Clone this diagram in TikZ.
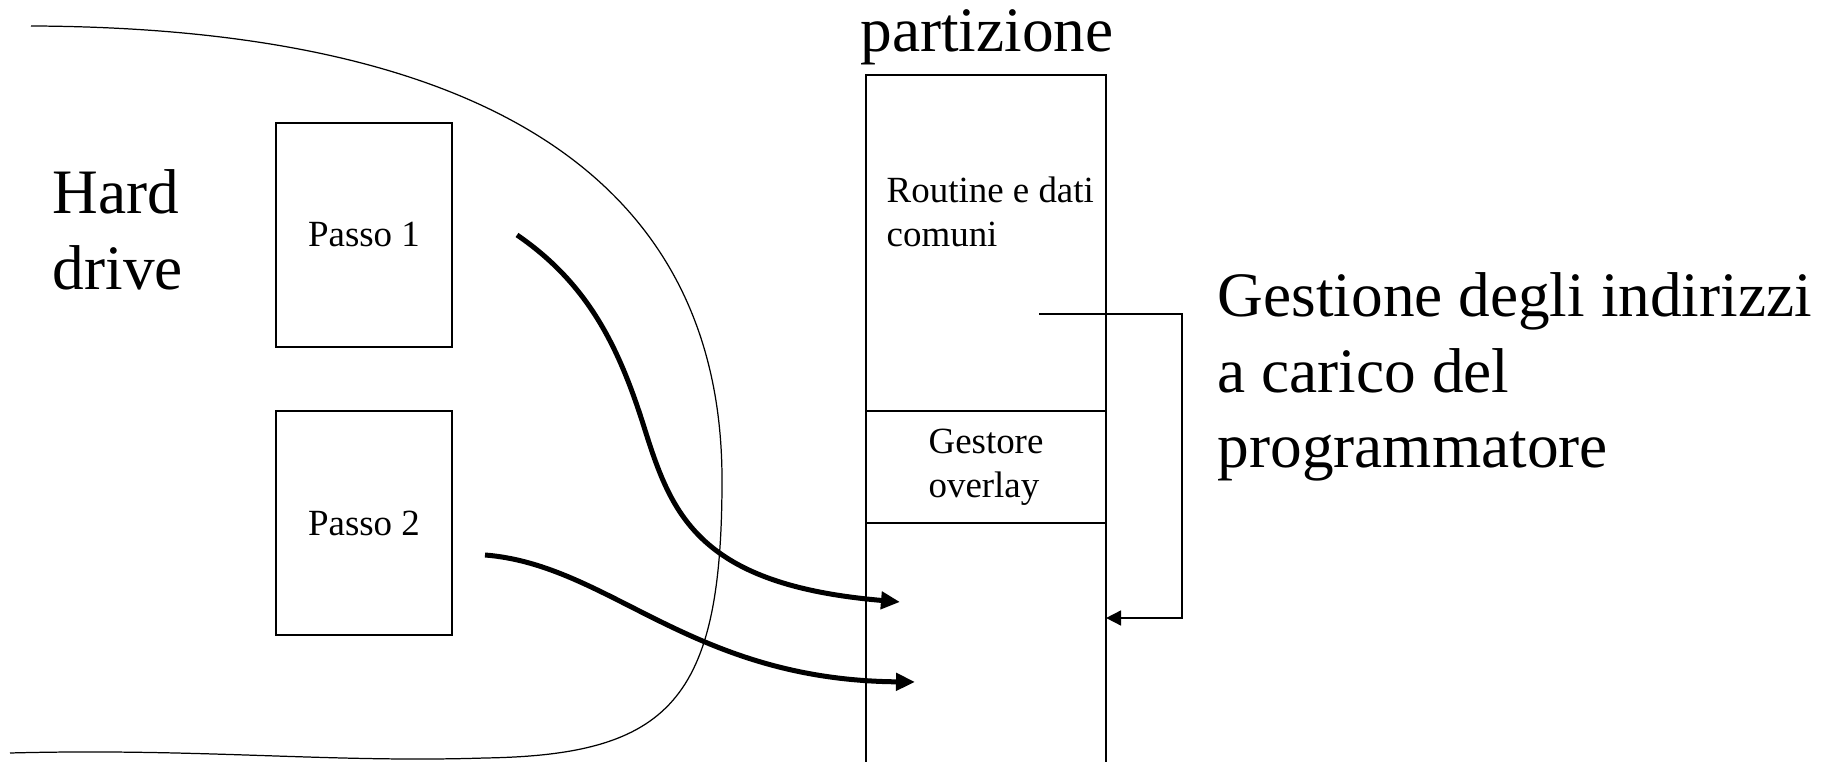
\documentclass[tikz,border=0pt]{standalone}
\usepackage{fontspec}
\setmainfont{Liberation Serif}
\usetikzlibrary{positioning,arrows.meta}

\begin{document}
\begin{tikzpicture}[x=0.01cm,y=-0.01cm,
	cell/.style={draw,line width=0.4pt,inner sep=0pt,outer sep=0pt,minimum width=2.4cm},
	big/.style={font=\fontsize{18}{21.5}\selectfont,align=left,inner sep=0pt},
	small/.style={font=\fontsize{10.5}{12.7}\selectfont,align=left,inner sep=0pt},
	fat/.style={line width=0.05cm,-{Triangle[length=0.19cm,width=0.17cm]}},
	thin/.style={line width=0.48pt,-{Triangle[length=0.15cm,width=0.15cm]}}]

\useasboundingbox (0,0) rectangle (1831,762);

% disco
\draw [line width=0.35pt] (31,26) .. controls (500,28) and (722,190) .. (722,480)
	.. controls (722,700) and (670,755) .. (485,758)
	.. controls (330,763) and (200,748) .. (10,753);

\node [big,anchor=north west] (hd) at (52,169) {Hard\\drive};

\foreach \i/\y in {1/235,2/523} {
	\node [cell,small,minimum width=1.76cm,minimum height=2.24cm,align=center] at (364,\y) (pass\i) {Passo \i};
}

%%%%%%%%%%%%%%%%%%%%%%%%%%%%%%%%%%%%%%%%%%%%%%%%%%%%%%%%%%%%%%%%

\node [cell,minimum height=3.36cm] at (986,243) (rout) {};
\node [small,anchor=north west] at (886,176) (routxt) {Routine e dati\\comuni};
\node [cell,small,minimum height=1.12cm,below=0pt of rout] (gest) {Gestore\\overlay};
\draw [line width=0.4pt] (gest.south west) -- ++(0,260);
\draw [line width=0.4pt] (gest.south east) -- ++(0,260);

\node [big,anchor=base] at (987,52) (part) {partizione};

\node [big,anchor=north west] at (1217,272) (gest2) {Gestione degli indirizzi\\a carico del\\programmatore};

\coordinate (bs) at (1039,314);
\coordinate (be) at (gest.east |- 0,618);
\draw [thin] (bs) -- (1182,314) |- (be);

%%%%%%%%%%%%%%%%%%%%%%%%%%%%%%%%%%%%%%%%%%%%%%%%%%%%%%%%%%%%%%%%

\coordinate (a1) at (517,235);
\coordinate (b1) at (900,602);
\coordinate (a2) at (485,555);
\coordinate (b2) at (915,682);

\draw [fat] (a1) .. controls (590,285) and (620,350) .. (645,430)
	.. controls (672,516) and (700,585) .. (b1);
\draw [fat] (a2) .. controls (610,565) and (690,680) .. (b2);

\end{tikzpicture}
\end{document}
